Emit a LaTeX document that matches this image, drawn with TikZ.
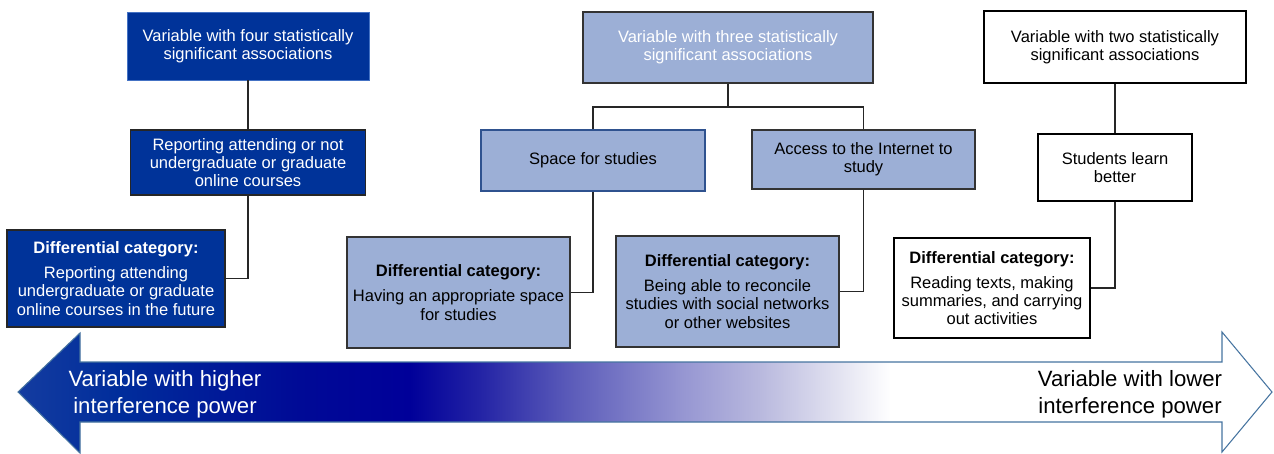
\documentclass[tikz,border=0pt]{standalone}
\usepackage{fontspec}
\setmainfont{Liberation Sans}
\usepackage{xcolor}
\usepackage{tikz}
\usetikzlibrary{arrows.meta,positioning}

\definecolor{deepblue}{RGB}{0,51,153}
\definecolor{softblue}{RGB}{156,175,214}
\definecolor{edgeblue}{RGB}{47,82,143}
\definecolor{rimblue}{RGB}{68,114,196}
\definecolor{outline}{RGB}{70,116,160}
\definecolor{gA}{RGB}{20,60,160}
\definecolor{gB}{RGB}{0,45,155}
\definecolor{gC}{RGB}{0,10,150}
\definecolor{gD}{RGB}{0,0,153}
\definecolor{gE}{RGB}{35,35,165}
\definecolor{gF}{RGB}{90,90,185}
\definecolor{gG}{RGB}{150,150,210}
\definecolor{gH}{RGB}{185,185,222}
\definecolor{gI}{RGB}{225,225,240}

% dark blue fading to white along the scale arrow
\pgfdeclarehorizontalshading{scaleshade}{100bp}{color(0bp)=(gA); color(25bp)=(gA);
  color(29bp)=(gB); color(36.2bp)=(gC); color(40.6bp)=(gD); color(43.4bp)=(gE);
  color(46.9bp)=(gF); color(51.5bp)=(gG); color(54.6bp)=(gH); color(57.6bp)=(gI);
  color(59.8bp)=(white); color(100bp)=(white)}

\begin{document}
\begin{tikzpicture}[x=0.02cm, y=-0.02cm,
      font=\fontsize{9.4}{10.3}\selectfont,
      bx/.style={align=center, inner sep=0pt, line width=0.8pt},
      dk/.style={bx, fill=deepblue, draw=black!85, text=white},
      lt/.style={bx, fill=softblue, draw=black!80},
      wt/.style={bx, fill=white, draw=black},
      ln/.style={line width=0.8pt, draw=black!85}]
    \useasboundingbox (0,0) rectangle (1274,453);

    % scale arrow along the bottom
    \path[shading=scaleshade, draw=outline, line width=0.6pt]
      (18,392) -- (80,333) -- (80,362) -- (1222,362) -- (1222,332) -- (1272,392)
      -- (1222,452) -- (1222,422) -- (80,422) -- (80,453) -- cycle;
    \node[align=center, text=white, font=\fontsize{12.6}{15.3}\selectfont] (hi) at (165,394)
      {Variable with higher\\interference power};
    \node[align=center, font=\fontsize{12.6}{15.3}\selectfont] (lo) at (1130,394)
      {Variable with lower\\interference power};

    % four associations
    \node[dk, draw=rimblue, line width=0.5pt, minimum width=4.84cm, minimum height=1.36cm] (a1) at (248,46)
      {Variable with four statistically\\significant associations};
    \node[dk, minimum width=4.70cm, minimum height=1.30cm] (a2) at (248,162.5)
      {Reporting attending or not\\undergraduate or graduate\\online courses};
    \node[dk, minimum width=4.36cm, minimum height=1.94cm] (a3) at (116,278.5)
      {\textbf{Differential category:}\\[4pt]Reporting attending\\undergraduate or graduate\\online courses in the future};
    \draw[ln] (a1) -- (a2);
    \draw[ln] (a2.south) |- (a3.east);

    % three associations
    \node[lt, text=white, minimum width=5.80cm, minimum height=1.42cm] (b1) at (728,47.5)
      {Variable with three statistically\\significant associations};
    \node[lt, draw=edgeblue, minimum width=4.48cm, minimum height=1.22cm] (b2) at (593,160.5)
      {Space for studies};
    \node[lt, minimum width=4.46cm, minimum height=1.18cm] (b3) at (863.5,159.5)
      {Access to the Internet to\\study};
    \node[lt, minimum width=4.46cm, minimum height=2.22cm] (b4) at (458.5,292.5)
      {\textbf{Differential category:}\\[4pt]Having an appropriate space\\for studies};
    \node[lt, minimum width=4.46cm, minimum height=2.22cm] (b5) at (727.5,291.5)
      {\textbf{Differential category:}\\[4pt]Being able to reconcile\\studies with social networks\\or other websites};
    \coordinate (bj) at (728,107);
    \draw[ln] (b1) -- (bj);
    \draw[ln] (b2.north) |- (bj) -| (b3.north);
    \draw[ln] (b2.south) |- (b4.east);
    \draw[ln] (b3.south) |- (b5.east);

    % two associations
    \node[wt, minimum width=5.24cm, minimum height=1.44cm] (c1) at (1115,47)
      {Variable with two statistically\\significant associations};
    \node[wt, minimum width=3.08cm, minimum height=1.34cm] (c2) at (1115,167.5)
      {Students learn\\better};
    \node[wt, minimum width=3.92cm, minimum height=2.00cm] (c3) at (992,288)
      {\textbf{Differential category:}\\[4pt]Reading texts, making\\summaries, and carrying\\out activities};
    \draw[ln] (c1) -- (c2);
    \draw[ln] (c2.south) |- (c3.east);
  \end{tikzpicture}
\end{document}
